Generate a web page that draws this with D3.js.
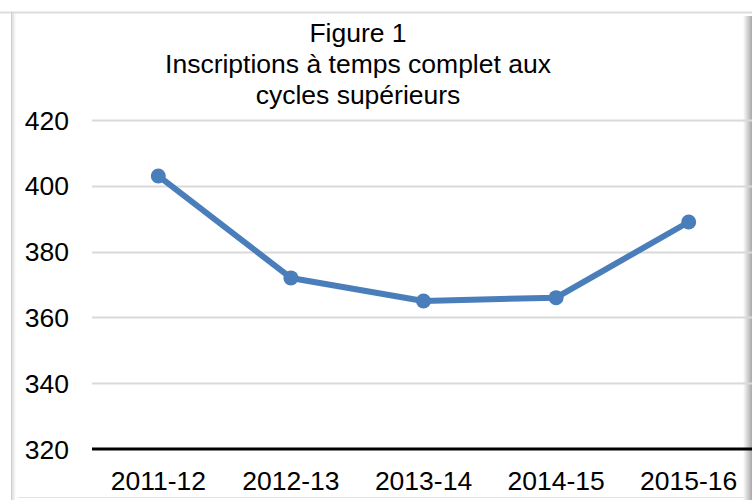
<!DOCTYPE html>
<html>
<head>
<meta charset="utf-8">
<script src="https://cdn.jsdelivr.net/npm/d3@7"></script>
<style>
  body { margin: 0; background: #fff; }
  svg text { font-family: "Liberation Sans", Arial, sans-serif; fill: #000; }
</style>
</head>
<body>
<svg id="svg"></svg>
<script>
// data
const years = ["2011-12", "2012-13", "2013-14", "2014-15", "2015-16"];
const enrolments = [403, 372, 365, 366, 389];
const yTicks = [320, 340, 360, 380, 400, 420];
const titleLines = ["Figure 1", "Inscriptions à temps complet aux", "cycles supérieurs"];

const width = 752, height = 500;
const lineColor = "#4a7ebb";
const fontSize = "26.5px";

let svg = d3.select("#svg")
    .attr("width", width)
    .attr("height", height);

// frame with a soft shadow on the sides
let defs = svg.append("defs");
let gl = defs.append("linearGradient").attr("id", "shadowL");
gl.append("stop").attr("offset", "0%").attr("stop-color", "#d4d4d4");
gl.append("stop").attr("offset", "100%").attr("stop-color", "#fff");
let gr = defs.append("linearGradient").attr("id", "shadowR");
gr.append("stop").attr("offset", "0%").attr("stop-color", "#fff");
gr.append("stop").attr("offset", "100%").attr("stop-color", "#a8a8a8");

svg.append("rect").attr("x", 11).attr("y", 13).attr("width", 5).attr("height", 487)
    .attr("fill", "url(#shadowL)");
svg.append("rect").attr("x", 743).attr("y", 16).attr("width", 9).attr("height", 484)
    .attr("fill", "url(#shadowR)");
svg.append("line").attr("x1", 0).attr("x2", width).attr("y1", 12.5).attr("y2", 12.5)
    .attr("stroke", "#dcdcdc").attr("stroke-width", 2);
svg.append("line").attr("x1", 11.5).attr("x2", 11.5).attr("y1", 12).attr("y2", height)
    .attr("stroke", "#d0d0d0").attr("stroke-width", 1);
svg.append("line").attr("x1", 18).attr("x2", 745).attr("y1", 497.5).attr("y2", 497.5)
    .attr("stroke", "#e4e4e4").attr("stroke-width", 1);

let margin = {left: 92, right: -3, top: 120, bottom: 51};

let x = d3.scaleBand()
    .domain(years)
    .range([margin.left, width - margin.right]);

let y = d3.scaleLinear()
    .domain([320, 420])
    .range([height - margin.bottom, margin.top]);

// gridlines
svg.append("g")
    .selectAll("line")
    .data(yTicks.filter(d => d > 320))
    .enter().append("line")
    .attr("x1", margin.left)
    .attr("x2", width)
    .attr("y1", d => Math.round(y(d)) + 0.5)
    .attr("y2", d => Math.round(y(d)) + 0.5)
    .attr("stroke", "#d9d9d9")
    .attr("stroke-width", 2);

// y axis labels
let yAxis = svg.append("g")
    .attr("transform", `translate(${margin.left - 23},0)`)
    .call(d3.axisLeft(y).tickValues(yTicks).tickSize(0).tickPadding(0));
yAxis.select(".domain").remove();
yAxis.selectAll("text")
    .style("font-size", fontSize)
    .attr("dy", "0.34em");

// x axis
let xAxis = svg.append("g")
    .attr("transform", `translate(0,${y(320)})`)
    .call(d3.axisBottom(x).tickSize(0));
xAxis.select(".domain")
    .attr("stroke", "#000")
    .attr("stroke-width", 3)
    .attr("d", `M${margin.left},0H${width}`);
xAxis.selectAll("text")
    .style("font-size", fontSize)
    .attr("y", 41)
    .attr("dy", 0);

// series line
let line = d3.line()
    .x((d, i) => x(years[i]) + x.bandwidth() / 2)
    .y(d => y(d));

svg.append("path")
    .datum(enrolments)
    .attr("fill", "none")
    .attr("stroke", lineColor)
    .attr("stroke-width", 6)
    .attr("stroke-linejoin", "round")
    .attr("d", line);

svg.append("g")
    .selectAll("circle")
    .data(enrolments)
    .enter().append("circle")
    .attr("cx", (d, i) => x(years[i]) + x.bandwidth() / 2)
    .attr("cy", d => y(d))
    .attr("r", 7.5)
    .attr("fill", lineColor);

// title
svg.append("g")
    .selectAll("text")
    .data(titleLines)
    .enter().append("text")
    .attr("x", 358)
    .attr("y", (d, i) => 42 + i * 31)
    .attr("text-anchor", "middle")
    .style("font-size", fontSize)
    .text(d => d);
</script>
</body>
</html>
